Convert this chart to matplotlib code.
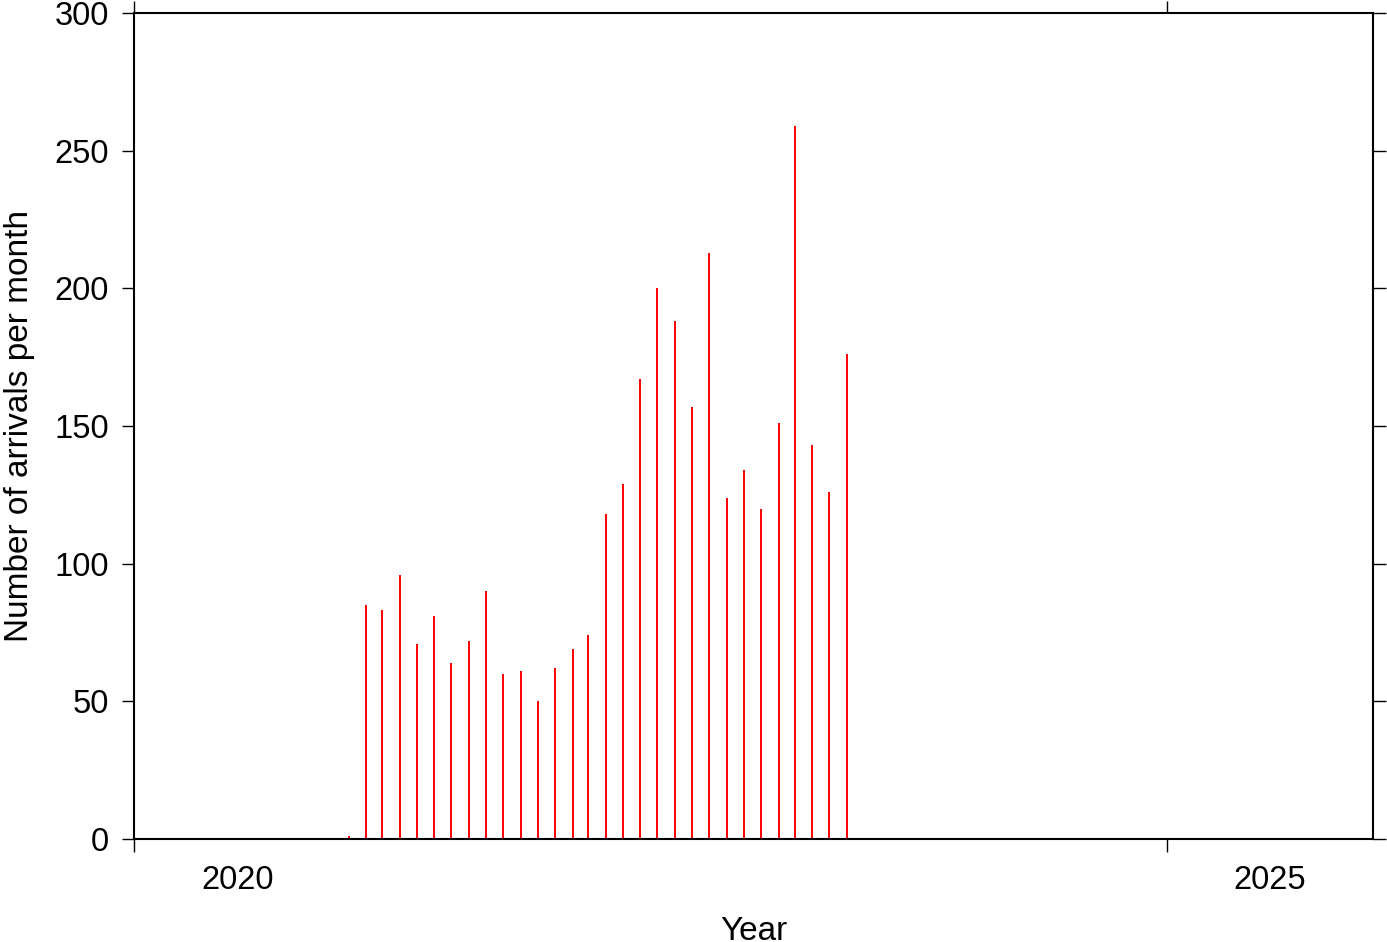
import matplotlib
matplotlib.use("Agg")
import matplotlib.pyplot as plt
import pandas as pd

plt.rcParams['font.family'] = ['Liberation Sans', 'DejaVu Sans']

months = ["2021-01", "2021-02", "2021-03", "2021-04", "2021-05", "2021-06",
          "2021-07", "2021-08", "2021-09", "2021-10", "2021-11", "2021-12",
          "2022-01", "2022-02", "2022-03", "2022-04", "2022-05", "2022-06",
          "2022-07", "2022-08", "2022-09", "2022-10", "2022-11", "2022-12",
          "2023-01", "2023-02", "2023-03", "2023-04", "2023-05", "2023-06"]
arrivals = [1, 85, 83, 96, 71, 81, 64, 72, 90, 60, 61, 50,
            62, 69, 74, 118, 129, 167, 200, 188, 157, 213, 124, 134,
            120, 151, 259, 143, 126, 176]
year_ticks = ["2020-01-01", "2025-01-01"]
year_labels = ["2020", "2025"]
y_ticks = [0, 50, 100, 150, 200, 250, 300]

dates = pd.to_datetime([m + "-15" for m in months])

fig = plt.figure(figsize=(13.87, 9.42), dpi=100)
ax = fig.add_axes([134 / 1387, 1 - 839 / 942, (1373 - 134) / 1387, (839 - 13) / 942])

ax.vlines(dates, 0, arrivals, colors="#ff0000", linewidth=1.4)

ax.set_xlim(pd.Timestamp("2020-01-01"), pd.Timestamp("2026-01-01"))
ax.set_ylim(0, 300)

ax.set_xticks(pd.to_datetime(year_ticks))
ax.set_xticklabels([])
ax.set_xticks(pd.to_datetime([y + "-07-02" for y in year_labels]), minor=True)
ax.set_xticklabels(year_labels, minor=True)
ax.set_yticks(y_ticks)
ax.set_yticklabels([str(v) for v in y_ticks])

ax.tick_params(axis="both", which="major", direction="out", length=9, width=1,
               labelsize=23.5, top=True, right=True)
ax.tick_params(axis="y", which="major", pad=9)
ax.tick_params(axis="x", which="minor", length=0, pad=19, labelsize=23.5)
for s in ax.spines.values():
    s.set_linewidth(1.5)

ax.set_xlabel("Year", fontsize=24, labelpad=14)
ax.set_ylabel("Number of arrivals per month", fontsize=24, labelpad=14)

fig.savefig("out.png", dpi=100)
